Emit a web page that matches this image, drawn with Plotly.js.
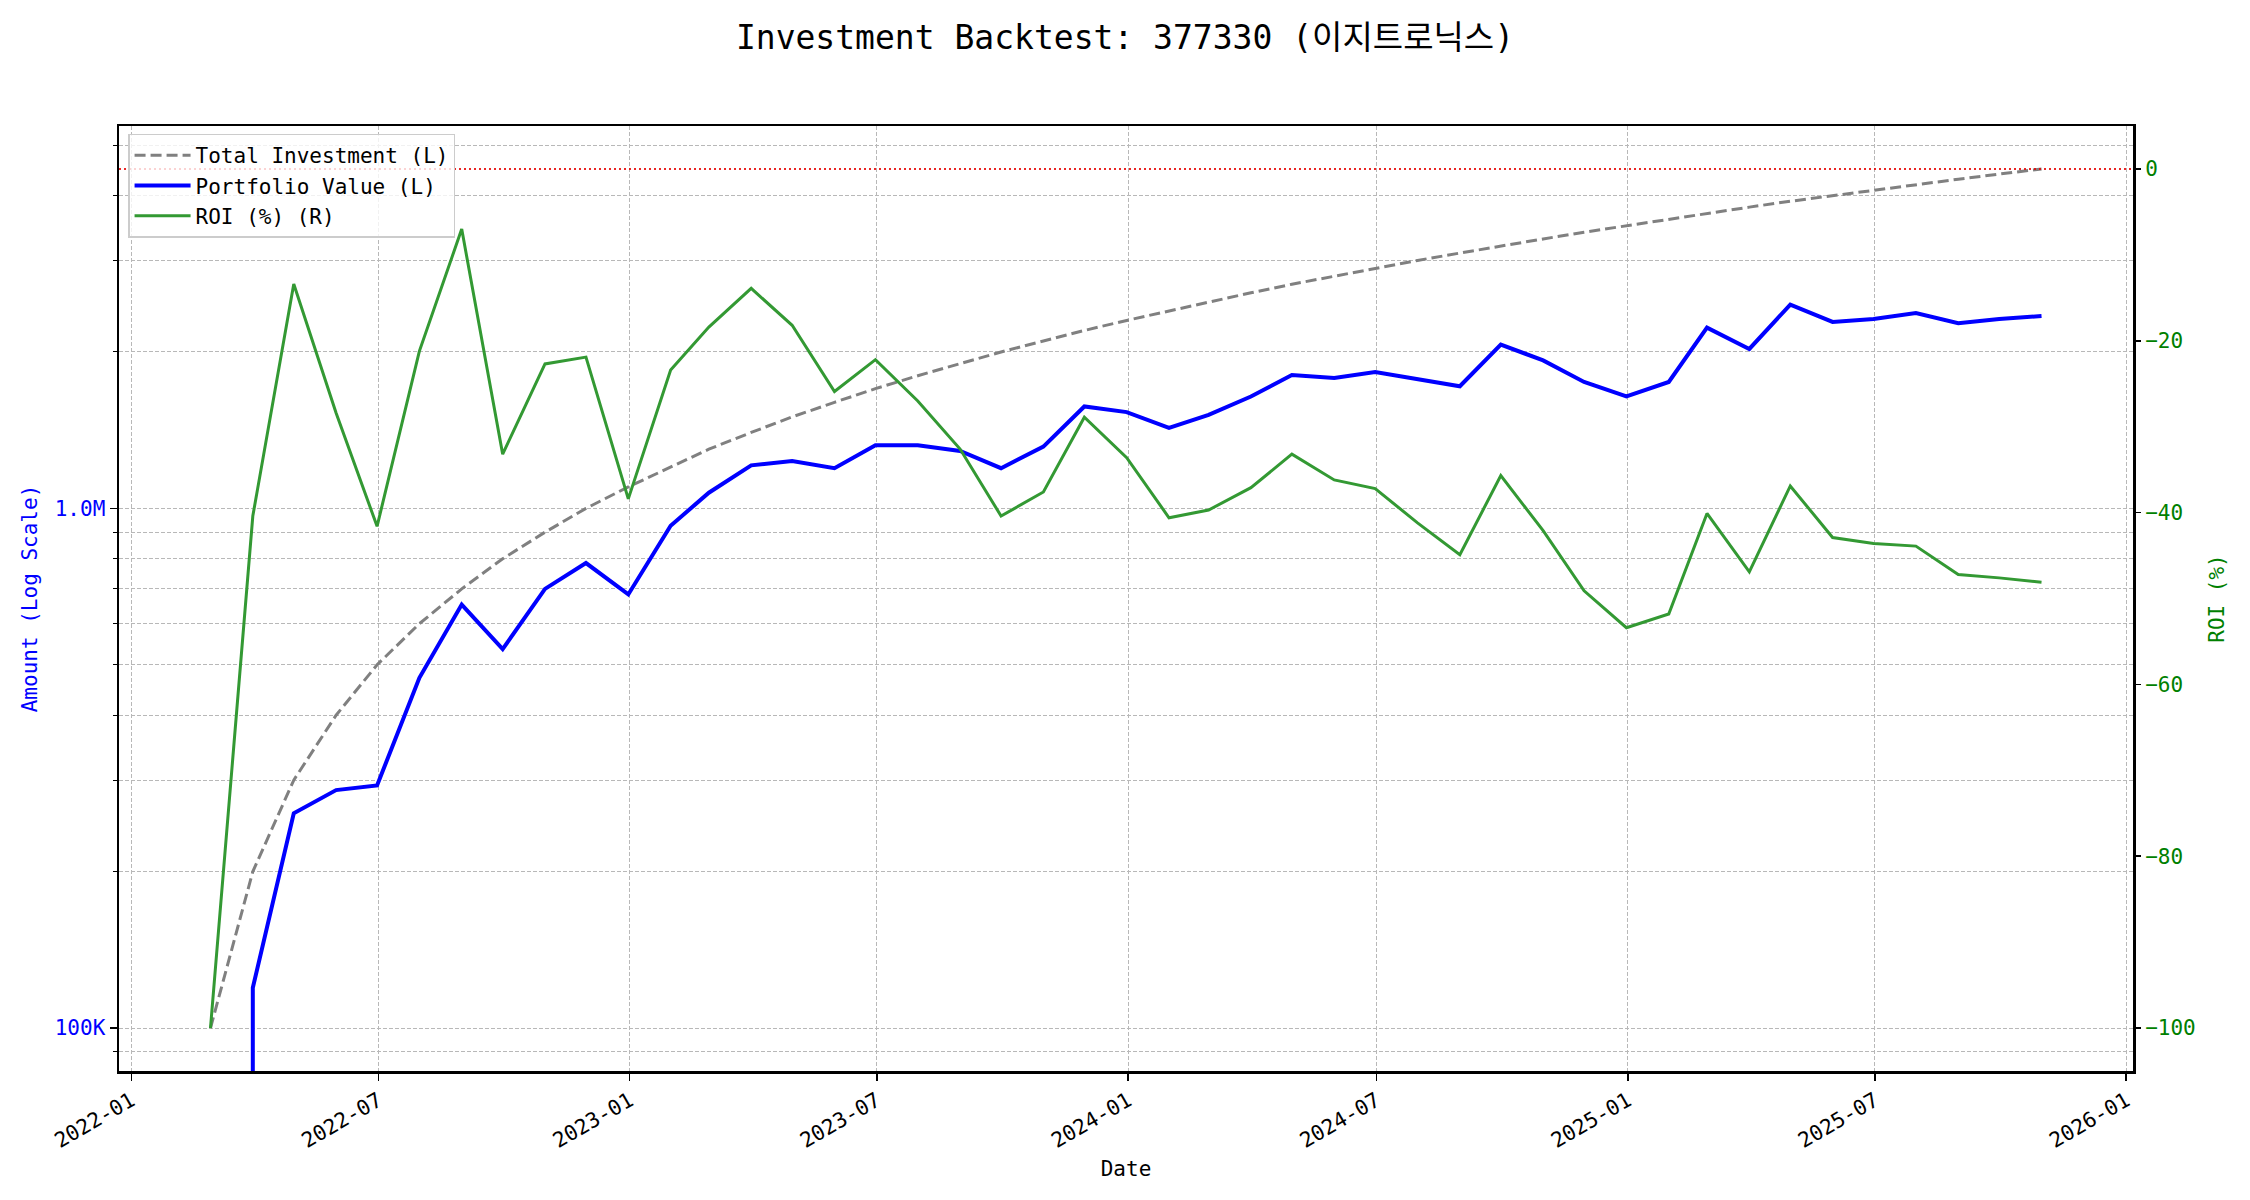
<!DOCTYPE html>
<html>
<head>
<meta charset="utf-8">
<script src="https://cdn.plot.ly/plotly-3.0.1.min.js"></script>
<style>
  html, body { margin: 0; padding: 0; background: #ffffff; }
  #chart { width: 2250px; height: 1200px; }
</style>
</head>
<body>
<div id="chart"></div>
<script>
// ---- Data ----
const dates = [
  '2022-02-28','2022-03-31','2022-04-30','2022-05-31','2022-06-30','2022-07-31','2022-08-31','2022-09-30',
  '2022-10-31','2022-11-30','2022-12-31','2023-01-31','2023-02-28','2023-03-31','2023-04-30','2023-05-31',
  '2023-06-30','2023-07-31','2023-08-31','2023-09-30','2023-10-31','2023-11-30','2023-12-31','2024-01-31',
  '2024-02-29','2024-03-31','2024-04-30','2024-05-31','2024-06-30','2024-07-31','2024-08-31','2024-09-30',
  '2024-10-31','2024-11-30','2024-12-31','2025-01-31','2025-02-28','2025-03-31','2025-04-30','2025-05-31',
  '2025-06-30','2025-07-31','2025-08-31','2025-09-30','2025-10-31'
];

const totalInvestment = [
  100000, 200000, 300000, 400000, 500000, 600000, 700000, 800000, 900000, 1000000,
  1100000, 1200000, 1300000, 1400000, 1500000, 1600000, 1700000, 1800000, 1900000, 2000000,
  2100000, 2200000, 2300000, 2400000, 2500000, 2600000, 2700000, 2800000, 2900000, 3000000,
  3100000, 3200000, 3300000, 3400000, 3500000, 3600000, 3700000, 3800000, 3900000, 4000000,
  4100000, 4200000, 4300000, 4400000, 4500000
];

const portfolioValue = [
  0, 119500, 259000, 287000, 293000, 472000, 653000, 536000, 700000, 785000,
  683000, 926000, 1072000, 1210000, 1234000, 1195000, 1323000, 1323000, 1290000, 1195000,
  1315000, 1571000, 1532000, 1429000, 1513000, 1642000, 1806000, 1783000, 1830000, 1773000,
  1718000, 2066000, 1927000, 1751000, 1642000, 1751000, 2228000, 2027000, 2467000, 2285000,
  2315000, 2377000, 2271000, 2315000, 2345000
];

const roiPct = [
  -100, -40.4, -13.4, -28.4, -41.6, -21.2, -7.0, -33.2, -22.7, -21.9,
  -38.4, -23.4, -18.4, -13.9, -18.2, -25.9, -22.2, -27.0, -32.6, -40.4,
  -37.6, -28.9, -33.6, -40.6, -39.7, -37.1, -33.2, -36.2, -37.2, -41.2,
  -44.9, -35.7, -42.1, -49.1, -53.4, -51.8, -40.1, -46.9, -36.9, -42.9,
  -43.6, -43.9, -47.2, -47.6, -48.1
];

const leftTickVals = [100000, 1000000];
const leftTickText = ['100K', '1.0M'];
const leftMinorVals = [90000, 200000, 300000, 400000, 500000, 600000, 700000, 800000, 900000,
                       2000000, 3000000, 4000000, 5000000];
const rightTickVals = [-100, -80, -60, -40, -20, 0];
const rightTickText = ['\u2212100', '\u221280', '\u221260', '\u221240', '\u221220', '0'];

// ---- Styling ----
const FONT = 'DejaVu Sans Mono, Noto Sans CJK KR, monospace';
const GRID = '#b8b8b8';
const GRIDDASH = '4px,2px';

const traces = [
  {
    x: dates, y: totalInvestment, name: 'Total Investment (L)', type: 'scatter', mode: 'lines',
    line: { color: '#808080', width: 3, dash: '11px,5px' }, xaxis: 'x', yaxis: 'y'
  },
  {
    x: dates, y: portfolioValue, name: 'Portfolio Value (L)', type: 'scatter', mode: 'lines',
    line: { color: '#0000ff', width: 4 }, xaxis: 'x', yaxis: 'y'
  },
  {
    x: dates, y: roiPct, name: 'ROI (%) (R)', type: 'scatter', mode: 'lines',
    line: { color: '#339933', width: 3 }, xaxis: 'x', yaxis: 'y2'
  }
];

const layout = {
  width: 2250, height: 1200,
  paper_bgcolor: '#ffffff', plot_bgcolor: '#ffffff',
  font: { family: FONT, size: 21, color: '#000000' },
  margin: { l: 119, r: 117, t: 126, b: 129, pad: 0 },
  title: {
    text: 'Investment Backtest: 377330 (이지트로닉스)',
    font: { family: FONT, size: 33, color: '#000000' },
    x: 0.5, xanchor: 'center', y: 1 - 37 / 1200, yref: 'container', yanchor: 'middle'
  },
  showlegend: true,
  legend: {
    x: 0.0045, y: 0.992, xanchor: 'left', yanchor: 'top',
    bgcolor: 'rgba(255,255,255,0.8)', bordercolor: '#cccccc', borderwidth: 1.5,
    font: { family: FONT, size: 21, color: '#000000' },
    itemwidth: 56,
    tracegroupgap: 0
  },
  xaxis: {
    type: 'date',
    range: ['2021-12-23', '2026-01-06'],
    tick0: '2022-01-01', dtick: 'M6', tickformat: '%Y-%m',
    tickangle: -30,
    ticks: 'outside', ticklen: 7, tickwidth: 1.5, tickcolor: '#000000',
    tickfont: { family: FONT, size: 21, color: '#000000' },
    showgrid: true, gridcolor: GRID, gridwidth: 1, griddash: GRIDDASH,
    showline: true, linecolor: '#000000', linewidth: 2.5, mirror: true,
    zeroline: false,
    title: { text: 'Date', font: { family: FONT, size: 21, color: '#000000' }, standoff: 10 }
  },
  yaxis: {
    type: 'log',
    range: [4.9173, 6.7359],
    tickmode: 'array', tickvals: leftTickVals, ticktext: leftTickText,
    ticks: 'outside', ticklen: 7, tickwidth: 1.5, tickcolor: '#000000',
    tickfont: { family: FONT, size: 21, color: '#0000ff' },
    showgrid: true, gridcolor: GRID, gridwidth: 1, griddash: GRIDDASH,
    minor: {
      tickmode: 'array', tickvals: leftMinorVals,
      ticks: 'outside', ticklen: 4, tickwidth: 1, tickcolor: '#000000',
      showgrid: true, gridcolor: GRID, gridwidth: 1, griddash: GRIDDASH
    },
    showline: true, linecolor: '#000000', linewidth: 2.5, mirror: true,
    zeroline: false,
    title: { text: 'Amount (Log Scale)', font: { family: FONT, size: 21, color: '#0000ff' }, standoff: 12 }
  },
  yaxis2: {
    overlaying: 'y', side: 'right', anchor: 'x',
    range: [-105, 5],
    tickmode: 'array', tickvals: rightTickVals, ticktext: rightTickText,
    ticks: 'outside', ticklen: 7, tickwidth: 1.5, tickcolor: '#000000',
    tickfont: { family: FONT, size: 21, color: '#008000' },
    showgrid: false, zeroline: false, showline: false,
    title: { text: 'ROI (%)', font: { family: FONT, size: 21, color: '#008000' }, standoff: 14 }
  },
  shapes: [
    {
      type: 'line', xref: 'paper', x0: 0, x1: 1, yref: 'y2', y0: 0, y1: 0,
      line: { color: 'rgba(230,0,0,0.85)', width: 2, dash: '2px,3px' }, layer: 'above'
    }
  ]
};

Plotly.newPlot('chart', traces, layout, { displayModeBar: false, staticPlot: true });
</script>
</body>
</html>
